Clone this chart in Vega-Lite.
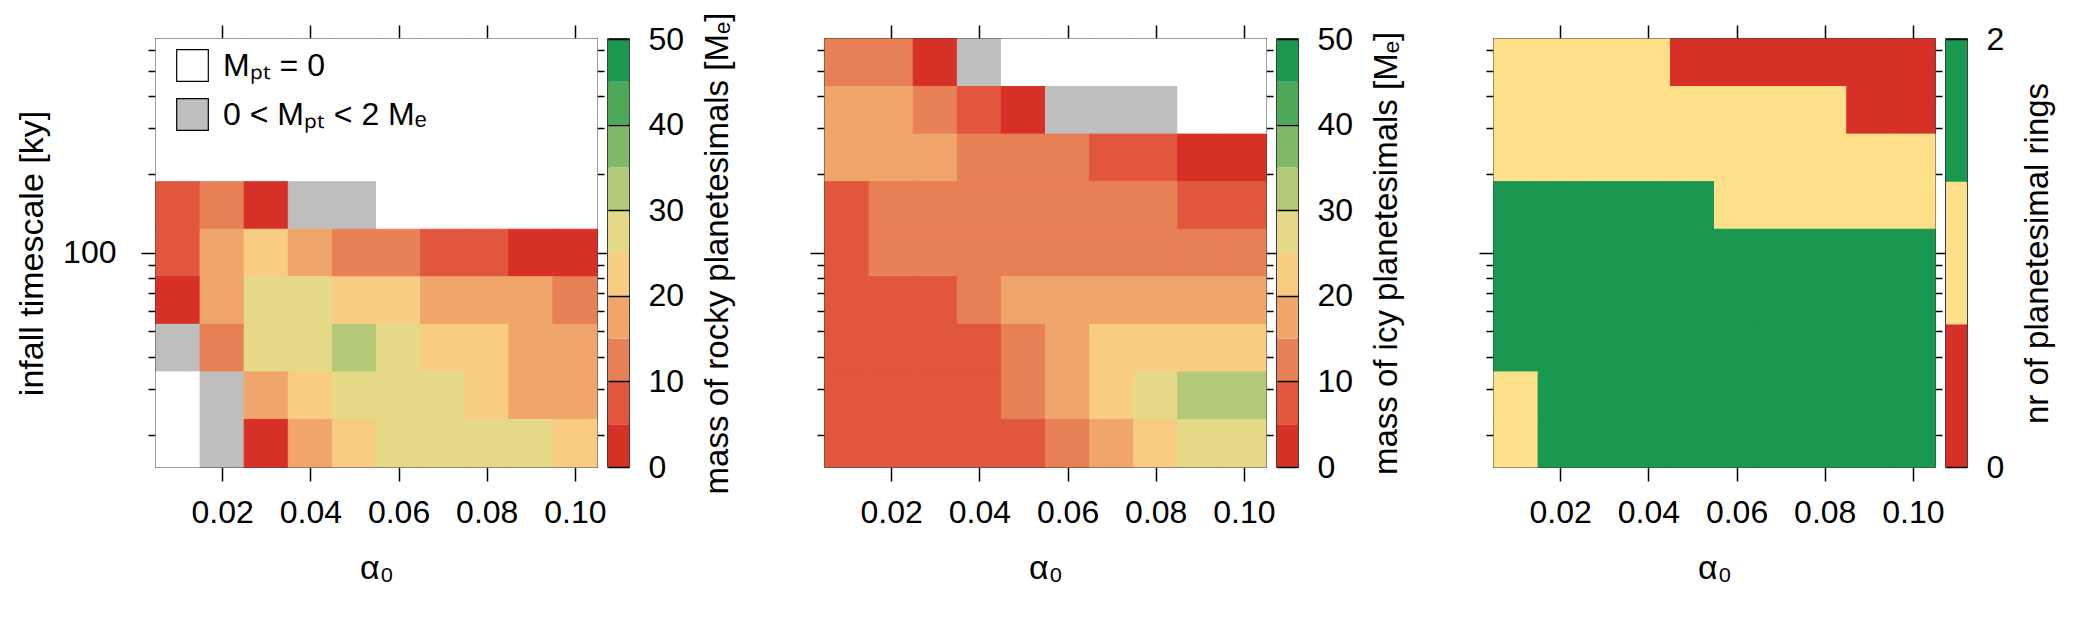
{
  "$schema": "https://vega.github.io/schema/vega-lite/v6.json",
  "padding": {"left": 14, "top": 11, "right": 5, "bottom": 5},
  "background": "white",
  "config": {
    "font": "Liberation Sans",
    "view": {"stroke": "black", "strokeWidth": 1.5},
    "axis": {
      "labelFont": "Liberation Sans", "titleFont": "Liberation Sans",
      "labelFontSize": 32, "titleFontSize": 34, "titleFontWeight": "normal",
      "labelColor": "black", "titleColor": "black", "tickColor": "black",
      "tickWidth": 1.5, "domain": false, "grid": false, "labelOverlap": false,
      "labelFlush": false, "titleLimit": 1000, "labelLimit": 1000
    },
    "legend": {"labelFont": "Liberation Sans", "labelFontSize": 32, "labelColor": "black", "labelLimit": 1000}
  },
  "datasets": {
    "grid": [
      {"a": 0.01, "t": 534, "rocky": 0, "icy": 12.5, "rings": 1},
      {"a": 0.02, "t": 534, "rocky": 0, "icy": 12.5, "rings": 1},
      {"a": 0.03, "t": 534, "rocky": 0, "icy": 3.5, "rings": 1},
      {"a": 0.04, "t": 534, "rocky": 0, "icy": 1, "rings": 1},
      {"a": 0.05, "t": 534, "rocky": 0, "icy": 0, "rings": 0},
      {"a": 0.06, "t": 534, "rocky": 0, "icy": 0, "rings": 0},
      {"a": 0.07, "t": 534, "rocky": 0, "icy": 0, "rings": 0},
      {"a": 0.08, "t": 534, "rocky": 0, "icy": 0, "rings": 0},
      {"a": 0.09, "t": 534, "rocky": 0, "icy": 0, "rings": 0},
      {"a": 0.10, "t": 534, "rocky": 0, "icy": 0, "rings": 0},

      {"a": 0.01, "t": 351, "rocky": 0, "icy": 17.5, "rings": 1},
      {"a": 0.02, "t": 351, "rocky": 0, "icy": 17.5, "rings": 1},
      {"a": 0.03, "t": 351, "rocky": 0, "icy": 12.5, "rings": 1},
      {"a": 0.04, "t": 351, "rocky": 0, "icy": 7.5, "rings": 1},
      {"a": 0.05, "t": 351, "rocky": 0, "icy": 3.5, "rings": 1},
      {"a": 0.06, "t": 351, "rocky": 0, "icy": 1, "rings": 1},
      {"a": 0.07, "t": 351, "rocky": 0, "icy": 1, "rings": 1},
      {"a": 0.08, "t": 351, "rocky": 0, "icy": 1, "rings": 1},
      {"a": 0.09, "t": 351, "rocky": 0, "icy": 0, "rings": 0},
      {"a": 0.10, "t": 351, "rocky": 0, "icy": 0, "rings": 0},

      {"a": 0.01, "t": 231, "rocky": 0, "icy": 17.5, "rings": 1},
      {"a": 0.02, "t": 231, "rocky": 0, "icy": 17.5, "rings": 1},
      {"a": 0.03, "t": 231, "rocky": 0, "icy": 17.5, "rings": 1},
      {"a": 0.04, "t": 231, "rocky": 0, "icy": 12.5, "rings": 1},
      {"a": 0.05, "t": 231, "rocky": 0, "icy": 12.5, "rings": 1},
      {"a": 0.06, "t": 231, "rocky": 0, "icy": 12.5, "rings": 1},
      {"a": 0.07, "t": 231, "rocky": 0, "icy": 7.5, "rings": 1},
      {"a": 0.08, "t": 231, "rocky": 0, "icy": 7.5, "rings": 1},
      {"a": 0.09, "t": 231, "rocky": 0, "icy": 3.5, "rings": 1},
      {"a": 0.10, "t": 231, "rocky": 0, "icy": 3.5, "rings": 1},

      {"a": 0.01, "t": 152, "rocky": 7.5, "icy": 7.5, "rings": 2},
      {"a": 0.02, "t": 152, "rocky": 12.5, "icy": 12.5, "rings": 2},
      {"a": 0.03, "t": 152, "rocky": 3.5, "icy": 12.5, "rings": 2},
      {"a": 0.04, "t": 152, "rocky": 1, "icy": 12.5, "rings": 2},
      {"a": 0.05, "t": 152, "rocky": 1, "icy": 12.5, "rings": 2},
      {"a": 0.06, "t": 152, "rocky": 0, "icy": 12.5, "rings": 1},
      {"a": 0.07, "t": 152, "rocky": 0, "icy": 12.5, "rings": 1},
      {"a": 0.08, "t": 152, "rocky": 0, "icy": 12.5, "rings": 1},
      {"a": 0.09, "t": 152, "rocky": 0, "icy": 7.5, "rings": 1},
      {"a": 0.10, "t": 152, "rocky": 0, "icy": 7.5, "rings": 1},

      {"a": 0.01, "t": 100, "rocky": 7.5, "icy": 7.5, "rings": 2},
      {"a": 0.02, "t": 100, "rocky": 17.5, "icy": 12.5, "rings": 2},
      {"a": 0.03, "t": 100, "rocky": 22.5, "icy": 12.5, "rings": 2},
      {"a": 0.04, "t": 100, "rocky": 17.5, "icy": 12.5, "rings": 2},
      {"a": 0.05, "t": 100, "rocky": 12.5, "icy": 12.5, "rings": 2},
      {"a": 0.06, "t": 100, "rocky": 12.5, "icy": 12.5, "rings": 2},
      {"a": 0.07, "t": 100, "rocky": 7.5, "icy": 12.5, "rings": 2},
      {"a": 0.08, "t": 100, "rocky": 7.5, "icy": 12.5, "rings": 2},
      {"a": 0.09, "t": 100, "rocky": 3.5, "icy": 12.5, "rings": 2},
      {"a": 0.10, "t": 100, "rocky": 3.5, "icy": 12.5, "rings": 2},

      {"a": 0.01, "t": 65.8, "rocky": 3.5, "icy": 7.5, "rings": 2},
      {"a": 0.02, "t": 65.8, "rocky": 17.5, "icy": 7.5, "rings": 2},
      {"a": 0.03, "t": 65.8, "rocky": 27.5, "icy": 7.5, "rings": 2},
      {"a": 0.04, "t": 65.8, "rocky": 27.5, "icy": 12.5, "rings": 2},
      {"a": 0.05, "t": 65.8, "rocky": 22.5, "icy": 17.5, "rings": 2},
      {"a": 0.06, "t": 65.8, "rocky": 22.5, "icy": 17.5, "rings": 2},
      {"a": 0.07, "t": 65.8, "rocky": 17.5, "icy": 17.5, "rings": 2},
      {"a": 0.08, "t": 65.8, "rocky": 17.5, "icy": 17.5, "rings": 2},
      {"a": 0.09, "t": 65.8, "rocky": 17.5, "icy": 17.5, "rings": 2},
      {"a": 0.10, "t": 65.8, "rocky": 12.5, "icy": 17.5, "rings": 2},

      {"a": 0.01, "t": 43.3, "rocky": 1, "icy": 7.5, "rings": 2},
      {"a": 0.02, "t": 43.3, "rocky": 12.5, "icy": 7.5, "rings": 2},
      {"a": 0.03, "t": 43.3, "rocky": 27.5, "icy": 7.5, "rings": 2},
      {"a": 0.04, "t": 43.3, "rocky": 27.5, "icy": 7.5, "rings": 2},
      {"a": 0.05, "t": 43.3, "rocky": 32.5, "icy": 12.5, "rings": 2},
      {"a": 0.06, "t": 43.3, "rocky": 27.5, "icy": 17.5, "rings": 2},
      {"a": 0.07, "t": 43.3, "rocky": 22.5, "icy": 22.5, "rings": 2},
      {"a": 0.08, "t": 43.3, "rocky": 22.5, "icy": 22.5, "rings": 2},
      {"a": 0.09, "t": 43.3, "rocky": 17.5, "icy": 22.5, "rings": 2},
      {"a": 0.10, "t": 43.3, "rocky": 17.5, "icy": 22.5, "rings": 2},

      {"a": 0.01, "t": 28.5, "rocky": 0, "icy": 7.5, "rings": 1},
      {"a": 0.02, "t": 28.5, "rocky": 1, "icy": 7.5, "rings": 2},
      {"a": 0.03, "t": 28.5, "rocky": 17.5, "icy": 7.5, "rings": 2},
      {"a": 0.04, "t": 28.5, "rocky": 22.5, "icy": 7.5, "rings": 2},
      {"a": 0.05, "t": 28.5, "rocky": 27.5, "icy": 12.5, "rings": 2},
      {"a": 0.06, "t": 28.5, "rocky": 27.5, "icy": 17.5, "rings": 2},
      {"a": 0.07, "t": 28.5, "rocky": 27.5, "icy": 22.5, "rings": 2},
      {"a": 0.08, "t": 28.5, "rocky": 22.5, "icy": 27.5, "rings": 2},
      {"a": 0.09, "t": 28.5, "rocky": 17.5, "icy": 32.5, "rings": 2},
      {"a": 0.10, "t": 28.5, "rocky": 17.5, "icy": 32.5, "rings": 2},

      {"a": 0.01, "t": 18.7, "rocky": 0, "icy": 7.5, "rings": 1},
      {"a": 0.02, "t": 18.7, "rocky": 1, "icy": 7.5, "rings": 2},
      {"a": 0.03, "t": 18.7, "rocky": 3.5, "icy": 7.5, "rings": 2},
      {"a": 0.04, "t": 18.7, "rocky": 17.5, "icy": 7.5, "rings": 2},
      {"a": 0.05, "t": 18.7, "rocky": 22.5, "icy": 7.5, "rings": 2},
      {"a": 0.06, "t": 18.7, "rocky": 27.5, "icy": 12.5, "rings": 2},
      {"a": 0.07, "t": 18.7, "rocky": 27.5, "icy": 17.5, "rings": 2},
      {"a": 0.08, "t": 18.7, "rocky": 27.5, "icy": 22.5, "rings": 2},
      {"a": 0.09, "t": 18.7, "rocky": 27.5, "icy": 27.5, "rings": 2},
      {"a": 0.10, "t": 18.7, "rocky": 22.5, "icy": 27.5, "rings": 2}
    ],
    "cbMass": [
      {"lo": 0, "hi": 5}, {"lo": 5, "hi": 10}, {"lo": 10, "hi": 15}, {"lo": 15, "hi": 20},
      {"lo": 20, "hi": 25}, {"lo": 25, "hi": 30}, {"lo": 30, "hi": 35}, {"lo": 35, "hi": 40},
      {"lo": 40, "hi": 45}, {"lo": 45, "hi": 50}
    ],
    "cbRings": [
      {"n": 0, "lo": 0, "hi": 0.6667},
      {"n": 1, "lo": 0.6667, "hi": 1.3333},
      {"n": 2, "lo": 1.3333, "hi": 2}
    ],
    "keyM": [
      {"label": "Mₚₜ = 0"},
      {"label": "0 < Mₚₜ < 2 Mₑ"}
    ]
  },
  "spacing": 11,
  "bounds": "flush",
  "resolve": {"scale": {"color": "independent", "fill": "independent", "stroke": "independent"}},
  "hconcat": [
    {
      "width": 441,
      "height": 428,
      "data": {"name": "grid"},
      "resolve": {"scale": {"x": "independent", "y": "independent", "fill": "independent"}},
      "layer": [
        {
          "mark": {"type": "rect", "strokeWidth": 1},
          "encoding": {
            "x": {"field": "a", "type": "ordinal", "axis": null, "scale": {"paddingInner": 0, "paddingOuter": 0}},
            "y": {"field": "t", "type": "ordinal", "sort": "descending", "axis": null, "scale": {"paddingInner": 0, "paddingOuter": 0}},
            "color": {
              "field": "rocky", "type": "quantitative", "legend": null,
              "scale": {"type": "threshold", "domain": [0.5, 2, 5, 10, 15, 20, 25, 30, 35, 40, 45],
                "range": ["#ffffff", "#bebebe", "#d73027", "#e0573e", "#e88055", "#f0a56a", "#f8cd82", "#e5d987", "#b3c977", "#80b966", "#4da85a", "#1a9850"]}
            },
            "stroke": {
              "field": "rocky", "type": "quantitative", "legend": null,
              "scale": {"type": "threshold", "domain": [0.5, 2, 5, 10, 15, 20, 25, 30, 35, 40, 45],
                "range": ["#ffffff", "#bebebe", "#d73027", "#e0573e", "#e88055", "#f0a56a", "#f8cd82", "#e5d987", "#b3c977", "#80b966", "#4da85a", "#1a9850"]}
            }
          }
        },
        {
          "mark": {"type": "point", "opacity": 0},
          "encoding": {
            "x": {"field": "a", "type": "quantitative", "scale": {"domain": [0.005, 0.105], "nice": false, "zero": false},
              "axis": {"orient": "bottom", "values": [0.02, 0.04, 0.06, 0.08, 0.1], "format": ".2f", "title": "α₀", "titleFontSize": 34, "tickSize": 14, "labelPadding": 16, "titlePadding": 23}},
            "y": {"field": "t", "type": "quantitative", "scale": {"type": "log", "domain": [15.1, 661], "nice": false},
              "axis": {"orient": "left", "values": [20, 30, 40, 50, 60, 70, 80, 90, 100, 200, 300, 400, 500, 600],
                "labelExpr": "datum.value == 100 ? '100' : ''",
                "tickSize": {"condition": {"test": "datum.value == 100", "value": 15}, "value": 8},
                "labelPadding": 25, "title": "infall timescale [ky]", "titleFontSize": 34, "titlePadding": 13}}
          }
        },
        {
          "mark": {"type": "point", "opacity": 0},
          "encoding": {
            "x": {"field": "a", "type": "quantitative", "scale": {"domain": [0.005, 0.105], "nice": false, "zero": false},
              "axis": {"orient": "top", "values": [0.02, 0.04, 0.06, 0.08, 0.1], "labels": false, "title": null, "tickSize": 14}},
            "y": {"field": "t", "type": "quantitative", "scale": {"type": "log", "domain": [15.1, 661], "nice": false},
              "axis": {"orient": "right", "values": [20, 30, 40, 50, 60, 70, 80, 90, 100, 200, 300, 400, 500, 600], "labels": false, "title": null,
                "tickSize": {"condition": {"test": "datum.value == 100", "value": 10}, "value": 7}}}
          }
        },
        {
          "data": {"name": "keyM"},
          "mark": {"type": "square", "opacity": 0},
          "encoding": {
            "fill": {"field": "label", "type": "nominal",
              "scale": {"domain": ["Mₚₜ = 0", "0 < Mₚₜ < 2 Mₑ"], "range": ["#ffffff", "#bebebe"]},
              "legend": {"orient": "none", "legendX": 20, "legendY": 10, "title": null, "symbolType": "square", "symbolSize": 1000,
                "symbolStrokeColor": "black", "symbolStrokeWidth": 1.2, "symbolOpacity": 1, "labelOffset": 14, "rowPadding": 12, "padding": 0}}
          }
        }
      ]
    },
    {
      "width": 21,
      "height": 428,
      "data": {"name": "cbMass"},
      "mark": {"type": "rect"},
      "encoding": {
        "y": {"field": "lo", "type": "quantitative", "scale": {"domain": [0, 50], "nice": false},
          "axis": {"orient": "right", "values": [0, 10, 20, 30, 40, 50], "grid": true, "gridColor": "black", "gridWidth": 1.5, "ticks": false,
            "labelPadding": 19, "title": "mass of rocky planetesimals [Mₑ]", "titleFontSize": 33, "titleAngle": 270, "titleBaseline": "top", "titlePadding": 18, "zindex": 1}},
        "y2": {"field": "hi"},
        "color": {"field": "lo", "type": "ordinal", "legend": null,
          "scale": {"domain": [0, 5, 10, 15, 20, 25, 30, 35, 40, 45],
            "range": ["#d73027", "#e0573e", "#e88055", "#f0a56a", "#f8cd82", "#e5d987", "#b3c977", "#80b966", "#4da85a", "#1a9850"]}}
      }
    },
    {
      "width": 174,
      "height": 428,
      "view": {"stroke": null},
      "data": {"values": []},
      "mark": {"type": "point"}
    },
    {
      "width": 441,
      "height": 428,
      "data": {"name": "grid"},
      "resolve": {"scale": {"x": "independent", "y": "independent"}},
      "layer": [
        {
          "mark": {"type": "rect", "strokeWidth": 1},
          "encoding": {
            "x": {"field": "a", "type": "ordinal", "axis": null, "scale": {"paddingInner": 0, "paddingOuter": 0}},
            "y": {"field": "t", "type": "ordinal", "sort": "descending", "axis": null, "scale": {"paddingInner": 0, "paddingOuter": 0}},
            "color": {
              "field": "icy", "type": "quantitative", "legend": null,
              "scale": {"type": "threshold", "domain": [0.5, 2, 5, 10, 15, 20, 25, 30, 35, 40, 45],
                "range": ["#ffffff", "#bebebe", "#d73027", "#e0573e", "#e88055", "#f0a56a", "#f8cd82", "#e5d987", "#b3c977", "#80b966", "#4da85a", "#1a9850"]}
            },
            "stroke": {
              "field": "icy", "type": "quantitative", "legend": null,
              "scale": {"type": "threshold", "domain": [0.5, 2, 5, 10, 15, 20, 25, 30, 35, 40, 45],
                "range": ["#ffffff", "#bebebe", "#d73027", "#e0573e", "#e88055", "#f0a56a", "#f8cd82", "#e5d987", "#b3c977", "#80b966", "#4da85a", "#1a9850"]}
            }
          }
        },
        {
          "mark": {"type": "point", "opacity": 0},
          "encoding": {
            "x": {"field": "a", "type": "quantitative", "scale": {"domain": [0.005, 0.105], "nice": false, "zero": false},
              "axis": {"orient": "bottom", "values": [0.02, 0.04, 0.06, 0.08, 0.1], "format": ".2f", "title": "α₀", "titleFontSize": 34, "tickSize": 14, "labelPadding": 16, "titlePadding": 23}},
            "y": {"field": "t", "type": "quantitative", "scale": {"type": "log", "domain": [15.1, 661], "nice": false},
              "axis": {"orient": "left", "values": [20, 30, 40, 50, 60, 70, 80, 90, 100, 200, 300, 400, 500, 600], "labels": false, "title": null,
                "tickSize": {"condition": {"test": "datum.value == 100", "value": 15}, "value": 8}}}
          }
        },
        {
          "mark": {"type": "point", "opacity": 0},
          "encoding": {
            "x": {"field": "a", "type": "quantitative", "scale": {"domain": [0.005, 0.105], "nice": false, "zero": false},
              "axis": {"orient": "top", "values": [0.02, 0.04, 0.06, 0.08, 0.1], "labels": false, "title": null, "tickSize": 14}},
            "y": {"field": "t", "type": "quantitative", "scale": {"type": "log", "domain": [15.1, 661], "nice": false},
              "axis": {"orient": "right", "values": [20, 30, 40, 50, 60, 70, 80, 90, 100, 200, 300, 400, 500, 600], "labels": false, "title": null,
                "tickSize": {"condition": {"test": "datum.value == 100", "value": 10}, "value": 7}}}
          }
        }
      ]
    },
    {
      "width": 21,
      "height": 428,
      "data": {"name": "cbMass"},
      "mark": {"type": "rect"},
      "encoding": {
        "y": {"field": "lo", "type": "quantitative", "scale": {"domain": [0, 50], "nice": false},
          "axis": {"orient": "right", "values": [0, 10, 20, 30, 40, 50], "grid": true, "gridColor": "black", "gridWidth": 1.5, "ticks": false,
            "labelPadding": 19, "title": "mass of icy planetesimals [Mₑ]", "titleFontSize": 33, "titleAngle": 270, "titleBaseline": "top", "titlePadding": 18, "zindex": 1}},
        "y2": {"field": "hi"},
        "color": {"field": "lo", "type": "ordinal", "legend": null,
          "scale": {"domain": [0, 5, 10, 15, 20, 25, 30, 35, 40, 45],
            "range": ["#d73027", "#e0573e", "#e88055", "#f0a56a", "#f8cd82", "#e5d987", "#b3c977", "#80b966", "#4da85a", "#1a9850"]}}
      }
    },
    {
      "width": 174,
      "height": 428,
      "view": {"stroke": null},
      "data": {"values": []},
      "mark": {"type": "point"}
    },
    {
      "width": 441,
      "height": 428,
      "data": {"name": "grid"},
      "resolve": {"scale": {"x": "independent", "y": "independent"}},
      "layer": [
        {
          "mark": {"type": "rect", "strokeWidth": 1},
          "encoding": {
            "x": {"field": "a", "type": "ordinal", "axis": null, "scale": {"paddingInner": 0, "paddingOuter": 0}},
            "y": {"field": "t", "type": "ordinal", "sort": "descending", "axis": null, "scale": {"paddingInner": 0, "paddingOuter": 0}},
            "color": {
              "field": "rings", "type": "ordinal", "legend": null,
              "scale": {"domain": [0, 1, 2], "range": ["#d73027", "#fee08b", "#1a9850"]}
            },
            "stroke": {
              "field": "rings", "type": "ordinal", "legend": null,
              "scale": {"domain": [0, 1, 2], "range": ["#d73027", "#fee08b", "#1a9850"]}
            }
          }
        },
        {
          "mark": {"type": "point", "opacity": 0},
          "encoding": {
            "x": {"field": "a", "type": "quantitative", "scale": {"domain": [0.005, 0.105], "nice": false, "zero": false},
              "axis": {"orient": "bottom", "values": [0.02, 0.04, 0.06, 0.08, 0.1], "format": ".2f", "title": "α₀", "titleFontSize": 34, "tickSize": 14, "labelPadding": 16, "titlePadding": 23}},
            "y": {"field": "t", "type": "quantitative", "scale": {"type": "log", "domain": [15.1, 661], "nice": false},
              "axis": {"orient": "left", "values": [20, 30, 40, 50, 60, 70, 80, 90, 100, 200, 300, 400, 500, 600], "labels": false, "title": null,
                "tickSize": {"condition": {"test": "datum.value == 100", "value": 15}, "value": 8}}}
          }
        },
        {
          "mark": {"type": "point", "opacity": 0},
          "encoding": {
            "x": {"field": "a", "type": "quantitative", "scale": {"domain": [0.005, 0.105], "nice": false, "zero": false},
              "axis": {"orient": "top", "values": [0.02, 0.04, 0.06, 0.08, 0.1], "labels": false, "title": null, "tickSize": 14}},
            "y": {"field": "t", "type": "quantitative", "scale": {"type": "log", "domain": [15.1, 661], "nice": false},
              "axis": {"orient": "right", "values": [20, 30, 40, 50, 60, 70, 80, 90, 100, 200, 300, 400, 500, 600], "labels": false, "title": null,
                "tickSize": {"condition": {"test": "datum.value == 100", "value": 10}, "value": 7}}}
          }
        }
      ]
    },
    {
      "width": 21,
      "height": 428,
      "data": {"name": "cbRings"},
      "mark": {"type": "rect"},
      "encoding": {
        "y": {"field": "lo", "type": "quantitative", "scale": {"domain": [0, 2], "nice": false},
          "axis": {"orient": "right", "values": [0, 1, 2], "format": "d", "grid": true, "gridColor": "black", "gridWidth": 1.5, "ticks": false,
            "labelPadding": 19, "title": "nr of planetesimal rings", "titleFontSize": 33, "titleAngle": 270, "titleBaseline": "top", "titlePadding": 18, "zindex": 1}},
        "y2": {"field": "hi"},
        "color": {"field": "n", "type": "ordinal", "legend": null,
          "scale": {"domain": [0, 1, 2], "range": ["#d73027", "#fee08b", "#1a9850"]}}
      }
    }
  ]
}
